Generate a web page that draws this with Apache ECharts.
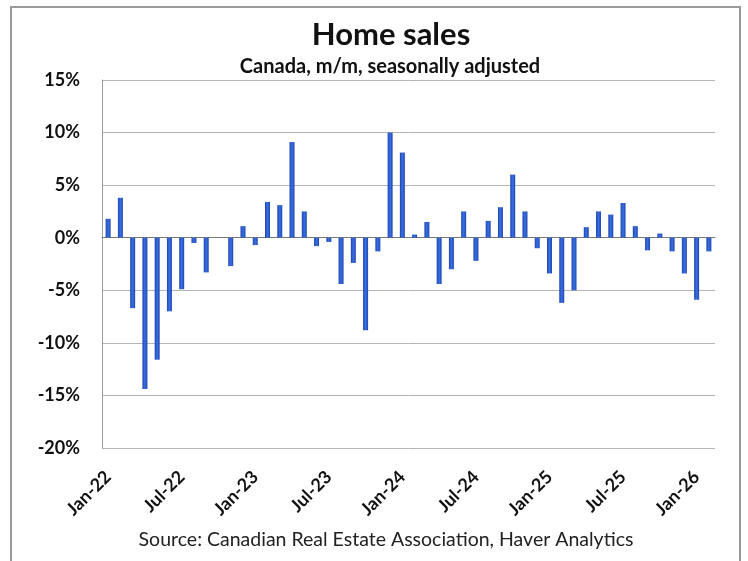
<!DOCTYPE html>
<html>
<head>
<meta charset="utf-8">
<script src="https://cdn.jsdelivr.net/npm/echarts@6/dist/echarts.min.js"></script>
<style>
  html, body { margin: 0; padding: 0; background: #fff; }
  #chart { width: 748px; height: 561px; }
</style>
</head>
<body>
<div id="chart"></div>
<script>
// Monthly change in home sales, Canada, seasonally adjusted (%)
const months = [
  'Jan-22','Feb-22','Mar-22','Apr-22','May-22','Jun-22','Jul-22','Aug-22','Sep-22','Oct-22','Nov-22','Dec-22',
  'Jan-23','Feb-23','Mar-23','Apr-23','May-23','Jun-23','Jul-23','Aug-23','Sep-23','Oct-23','Nov-23','Dec-23',
  'Jan-24','Feb-24','Mar-24','Apr-24','May-24','Jun-24','Jul-24','Aug-24','Sep-24','Oct-24','Nov-24','Dec-24',
  'Jan-25','Feb-25','Mar-25','Apr-25','May-25','Jun-25','Jul-25','Aug-25','Sep-25','Oct-25','Nov-25','Dec-25',
  'Jan-26','Feb-26'
];
const salesChange = [
  1.8, 3.8, -6.7, -14.4, -11.6, -7.0, -4.9, -0.5, -3.3, 0.0, -2.7, 1.1,
  -0.7, 3.4, 3.1, 9.1, 2.5, -0.8, -0.4, -4.4, -2.4, -8.8, -1.3, 10.0,
  8.1, 0.3, 1.5, -4.4, -3.0, 2.5, -2.2, 1.6, 2.9, 6.0, 2.5, -1.0,
  -3.4, -6.2, -5.0, 1.0, 2.5, 2.2, 3.3, 1.1, -1.2, 0.4, -1.3, -3.4,
  -5.9, -1.3
];
const yTicks = { min: -20, max: 15, step: 5 };

const FONT = 'Lato, "Open Sans", sans-serif';
const chart = echarts.init(document.getElementById('chart'), null, { renderer: 'canvas' });

chart.setOption({
  backgroundColor: '#ffffff',
  animation: false,
  title: [
    {
      text: 'Home sales',
      left: 386, top: 14, textAlign: 'center',
      textStyle: { fontFamily: FONT, fontSize: 31, fontWeight: 'bold', color: '#111' }
    },
    {
      text: 'Canada, m/m, seasonally adjusted',
      left: 385, top: 52, textAlign: 'center',
      textStyle: { fontFamily: FONT, fontSize: 20, fontWeight: 'bold', color: '#111' }
    },
    {
      text: 'Source: Canadian Real Estate Association, Haver Analytics',
      left: 381, top: 525, textAlign: 'center',
      textStyle: { fontFamily: FONT, fontSize: 19.5, fontWeight: 'normal', color: '#222' }
    }
  ],
  graphic: [{
    type: 'rect',
    shape: { x: 11, y: 7, width: 729, height: 600 },
    style: { fill: 'none', stroke: '#9a9a9a', lineWidth: 2 },
    silent: true
  }],
  grid: { left: 102, right: 33, top: 80, bottom: 113 },
  xAxis: {
    type: 'category',
    data: months,
    axisLine: { onZero: true, lineStyle: { color: '#7a7a7a', width: 1 } },
    axisTick: { show: false },
    axisLabel: {
      interval: 5,
      rotate: 45,
      margin: 26,
      fontFamily: FONT, fontSize: 18, fontWeight: 'bold', color: '#111'
    }
  },
  yAxis: {
    type: 'value',
    min: yTicks.min, max: yTicks.max, interval: yTicks.step,
    axisLine: { show: true, lineStyle: { color: '#9a9a9a' } },
    axisTick: { show: false },
    splitLine: { lineStyle: { color: '#b5b5b5', width: 1 } },
    axisLabel: {
      formatter: v => v + '%',
      margin: 22,
      fontFamily: FONT, fontSize: 18, fontWeight: 'bold', color: '#111'
    }
  },
  series: [{
    type: 'bar',
    data: salesChange,
    barWidth: 5,
    itemStyle: {
      color: new echarts.graphic.LinearGradient(0, 0, 1, 0, [
        { offset: 0, color: '#1d45b0' },
        { offset: 0.5, color: '#3a6fe2' },
        { offset: 1, color: '#1d45b0' }
      ])
    }
  }]
});
</script>
</body>
</html>
